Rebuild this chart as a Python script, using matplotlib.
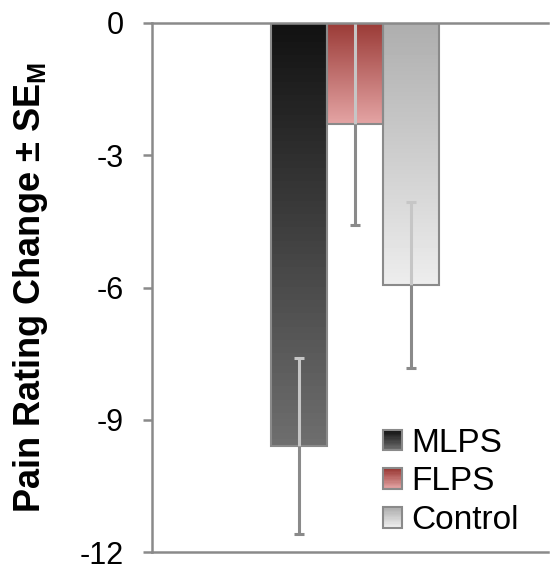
import numpy as np
import matplotlib
matplotlib.use('Agg')
import matplotlib.pyplot as plt
from matplotlib.colors import to_rgb
from matplotlib.patches import Rectangle
from matplotlib.legend_handler import HandlerBase

groups = ['MLPS', 'FLPS', 'Control']
means = [-9.6, -2.3, -5.95]
sems = [2.0, 2.28, 1.88]
top_colors = ['#121212', '#9a3a36', '#aeaeae']
bottom_colors = ['#6e6e6e', '#e4a4a4', '#ededed']
yticks = [0, -3, -6, -9, -12]

plt.rcParams['font.family'] = ['Liberation Sans', 'DejaVu Sans']
plt.rcParams['mathtext.fontset'] = 'custom'
plt.rcParams['mathtext.rm'] = 'Liberation Sans'
plt.rcParams['mathtext.bf'] = 'Liberation Sans:bold'

edge = '#8a8a8a'
light = '#c6c6c6'


def gradient(c_top, c_bot, n=64):
    t = np.linspace(0, 1, n)[:, None]
    a = np.array(to_rgb(c_top))
    b = np.array(to_rgb(c_bot))
    return (a * (1 - t) + b * t)[:, None, :]


class GradHandler(HandlerBase):
    def __init__(self, c_top, c_bot):
        super().__init__()
        self.c_top = c_top
        self.c_bot = c_bot

    def create_artists(self, legend, orig_handle, xdescent, ydescent,
                       width, height, fontsize, trans):
        arts = []
        n = 16
        cols = gradient(self.c_top, self.c_bot, n)[:, 0, :]
        for i in range(n):
            r = Rectangle((-xdescent, -ydescent + height * (1 - (i + 1) / n)),
                          width, height / n, facecolor=cols[i],
                          edgecolor='none', transform=trans)
            arts.append(r)
        arts.append(Rectangle((-xdescent, -ydescent), width, height, fill=False,
                              edgecolor=edge, lw=1.5, transform=trans))
        return arts


fig = plt.figure(figsize=(5.5, 5.66), dpi=100)
ax = fig.add_axes([152 / 550, 1 - 552 / 566, 396 / 550, 529 / 566])

x = np.arange(len(groups)) - 1
bars = ax.bar(x, means, width=1.0, facecolor='none', edgecolor=edge,
              linewidth=1.5, zorder=3)
for i, b in enumerate(bars):
    im = ax.imshow(gradient(top_colors[i], bottom_colors[i]),
                   extent=(x[i] - 0.5, x[i] + 0.5, means[i], 0),
                   origin='upper', aspect='auto', zorder=2)
    im.set_clip_path(b)

# error bars: lighter part inside the bar, darker part outside
for i in range(len(groups)):
    m, s = means[i], sems[i]
    ax.vlines(x[i], m, min(m + s, -0.03), color=light, lw=2.2, zorder=4)
    if m + s < -0.1:
        ax.plot(x[i], m + s, marker='_', ms=7, mew=2.2, color=light, zorder=4)
    ax.vlines(x[i], m - s, m, color=edge, lw=2.2, zorder=4)
    ax.plot(x[i], m - s, marker='_', ms=7, mew=2.2, color=edge, zorder=4)

ax.set_xlim(-3.625, 3.45)
ax.set_ylim(-12, 0)
ax.set_yticks(yticks)
ax.set_yticklabels([str(t) for t in yticks])
ax.set_xticks([])
ax.tick_params(axis='y', direction='out', length=6.5, width=1.8, color=edge,
               labelsize=22, pad=14)
for side in ['left', 'top', 'bottom']:
    ax.spines[side].set_color(edge)
    ax.spines[side].set_linewidth(1.8)
ax.spines['right'].set_visible(False)

ax.set_ylabel(r'Pain Rating Change ± SE$_{\mathbf{M}}$', fontsize=26,
              fontweight='bold')
ax.yaxis.set_label_coords(-0.258, 0.5)

proxies = [Rectangle((0, 0), 1, 1) for _ in groups]
hmap = {p: GradHandler(top_colors[i], bottom_colors[i])
        for i, p in enumerate(proxies)}
ax.legend(proxies, groups, handler_map=hmap, loc='lower left',
          bbox_to_anchor=(0.583, 0.03), frameon=False, fontsize=24,
          borderpad=0, borderaxespad=0, handlelength=0.57, handleheight=0.57,
          handletextpad=0.28, labelspacing=0.23)

fig.savefig('out.png', dpi=100)
